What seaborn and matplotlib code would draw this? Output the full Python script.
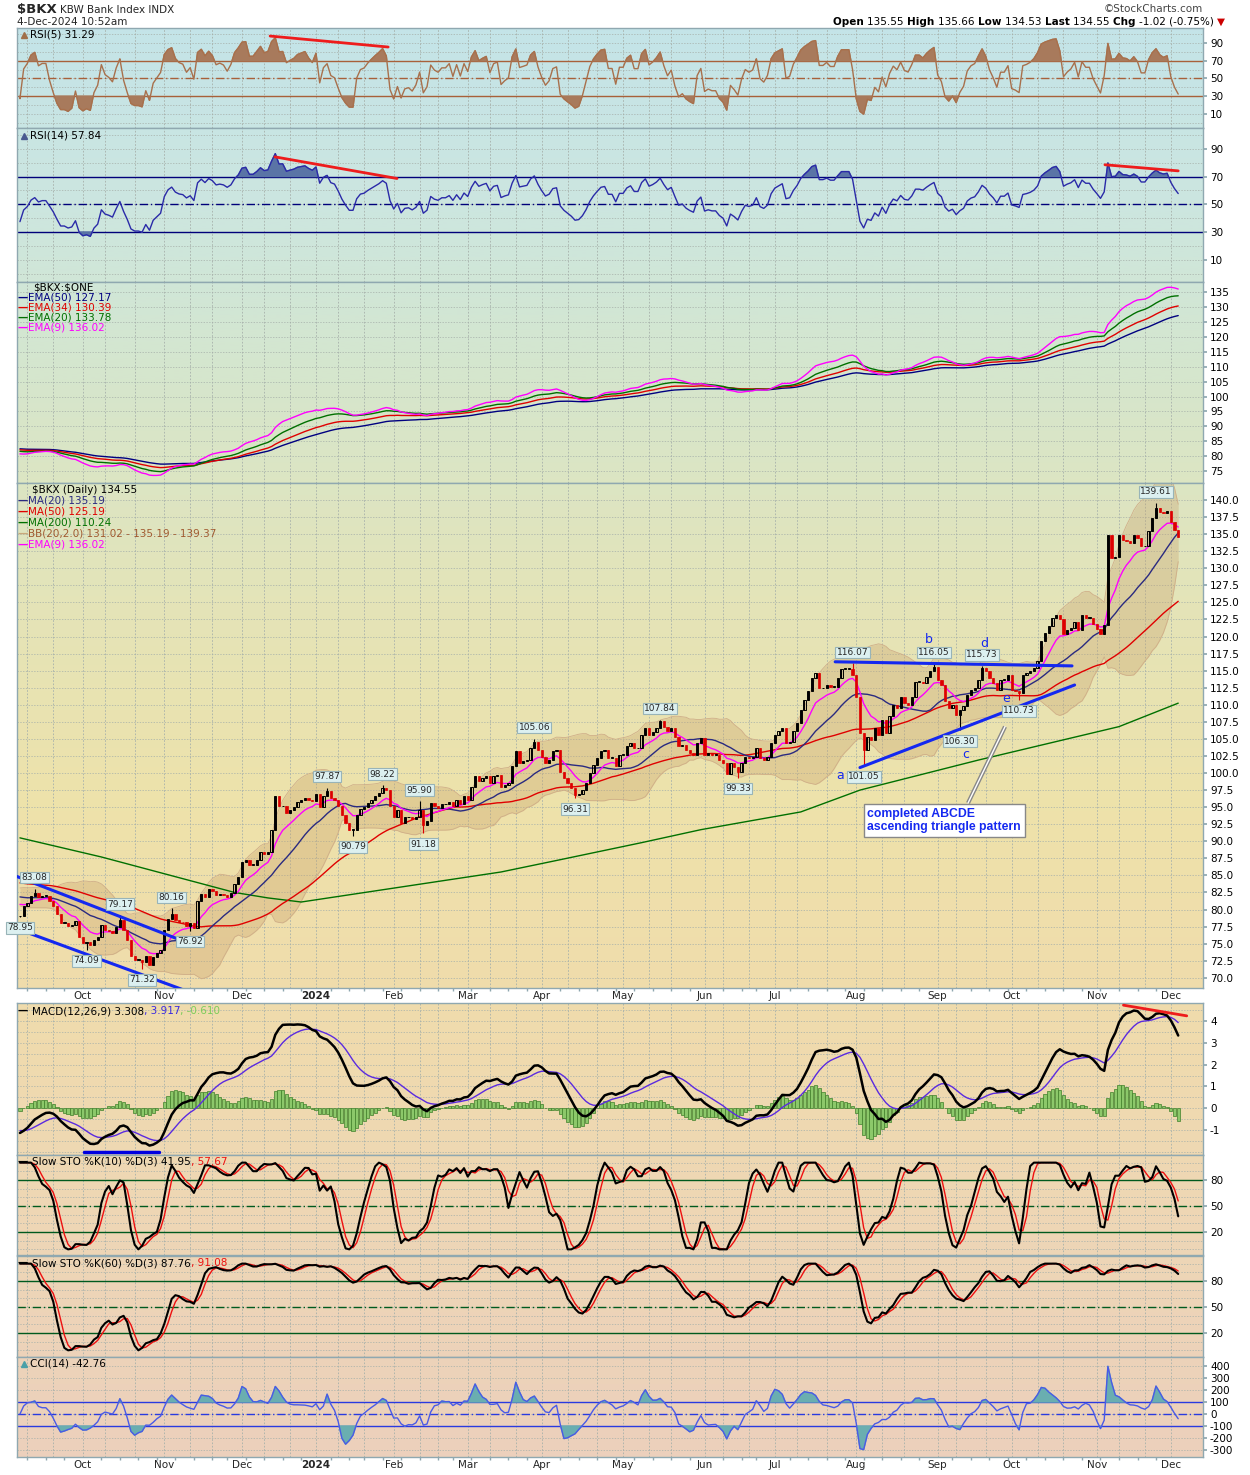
import numpy as np
import pandas as pd
import seaborn as sns
import matplotlib.pyplot as plt
from matplotlib.colors import LinearSegmentedColormap

# ---------------- data ----------------
# daily closes of $BKX, 7-Sep-2023 .. 4-Dec-2024
closes = [
    79.0, 80.5, 81.0, 82.0, 82.4, 81.8, 82.0, 82.0, 81.3, 80.5,
    79.3, 78.0, 78.0, 77.6, 77.7, 78.3, 76.0, 75.1, 75.2, 74.8,
    75.6, 76.0, 77.7, 77.0, 76.8, 76.5, 77.5, 78.5, 77.0, 75.5,
    73.2, 72.6, 72.6, 72.3, 73.2, 71.8, 73.1, 73.6, 74.1, 77.0,
    78.6, 79.3, 78.5, 78.2, 78.1, 77.6, 78.0, 77.3, 81.2, 82.3,
    81.8, 83.0, 82.7, 82.1, 82.3, 82.2, 81.9, 82.4, 83.8, 84.8,
    87.0, 87.3, 86.5, 86.5, 87.3, 88.5, 88.2, 88.4, 91.7, 96.6,
    95.1, 95.2, 94.1, 94.6, 95.0, 95.8, 96.1, 96.4, 96.1, 95.9,
    97.0, 95.0, 96.7, 97.3, 96.3, 96.1, 95.1, 93.8, 92.7, 91.7,
    91.7, 93.8, 94.8, 95.0, 95.6, 96.1, 96.6, 97.1, 97.8, 97.5,
    95.1, 93.6, 94.6, 92.7, 93.5, 93.6, 93.2, 93.6, 94.6, 92.4,
    92.9, 95.6, 95.1, 94.9, 95.4, 95.4, 95.8, 95.1, 96.1, 95.4,
    96.6, 96.1, 98.0, 99.5, 98.8, 99.2, 99.5, 98.5, 99.5, 99.7,
    98.0, 98.3, 98.5, 101.0, 103.2, 101.5, 101.7, 101.9, 103.7, 104.6,
    103.4, 102.4, 101.5, 101.9, 103.2, 103.4, 100.2, 99.2, 98.5, 97.8,
    96.8, 96.9, 97.5, 98.5, 100.0, 101.2, 102.2, 103.2, 103.4, 102.2,
    102.2, 101.0, 102.7, 102.7, 103.9, 104.4, 103.6, 103.6, 105.6, 106.6,
    105.6, 106.0, 106.6, 107.6, 106.8, 106.1, 106.6, 105.3, 103.9, 104.1,
    103.4, 103.0, 102.7, 104.4, 105.1, 102.7, 102.9, 102.7, 102.7, 101.9,
    101.4, 99.8, 101.4, 100.9, 100.2, 101.4, 102.4, 102.2, 102.4, 103.6,
    102.2, 101.9, 102.4, 104.4, 105.6, 106.1, 106.6, 104.4, 104.6, 106.1,
    107.3, 109.3, 110.7, 112.0, 113.9, 114.6, 112.4, 112.4, 112.9, 112.6,
    112.6, 113.9, 115.3, 115.3, 115.3, 114.4, 111.2, 105.9, 103.4, 105.3,
    104.9, 106.6, 105.6, 107.8, 105.9, 108.3, 110.0, 109.5, 111.2, 110.2,
    110.0, 111.2, 113.4, 113.4, 113.2, 114.1, 114.9, 115.6, 113.6, 112.9,
    110.5, 109.5, 109.9, 108.5, 109.3, 109.8, 111.4, 112.1, 112.4, 113.6,
    115.4, 114.9, 113.9, 113.2, 112.2, 113.7, 113.7, 114.4, 112.2, 112.0,
    111.7, 114.4, 114.6, 114.9, 115.4, 116.4, 119.3, 120.5, 121.5, 122.7,
    123.2, 122.5, 120.3, 120.9, 121.3, 122.2, 121.0, 123.2, 122.7, 122.7,
    121.8, 121.1, 120.3, 121.7, 134.9, 131.5, 131.7, 134.9, 134.1, 134.0,
    133.7, 134.9, 134.4, 133.2, 133.2, 135.4, 137.3, 138.8, 138.3, 138.1,
    138.4, 136.8, 135.57, 134.55,
]
holidays = ["2023-11-23", "2023-12-25", "2024-01-01", "2024-01-15", "2024-02-19",
            "2024-03-29", "2024-05-27", "2024-06-19", "2024-07-04", "2024-09-02",
            "2024-11-28"]

ma200_idx = [0, 22, 40, 58, 67, 76, 103, 130, 146, 168, 184, 211, 227, 259, 297, 313]
ma200_val = [90.5, 87.7, 85.1, 82.5, 81.7, 81.1, 83.3, 85.5, 87.3, 89.8, 91.7, 94.3,
             97.5, 101.9, 106.8, 110.24]

# labelled highs / lows
label_idx = [0, 4, 18, 27, 33, 41, 46, 83, 90, 98, 108, 109, 139, 150, 173, 194,
             225, 228, 247, 254, 260, 270, 307]
label_val = [78.95, 83.08, 74.09, 79.17, 71.32, 80.16, 76.92, 97.87, 90.79, 98.22,
             95.90, 91.18, 105.06, 96.31, 107.84, 99.33, 116.07, 101.05, 116.05,
             106.30, 115.73, 110.73, 139.61]
label_side = ["lo", "hi", "lo", "hi", "lo", "hi", "lo", "hi", "lo", "hi", "hi", "lo",
              "hi", "lo", "hi", "lo", "hi", "lo", "hi", "lo", "hi", "lo", "hi"]

# starting levels (history before the window)
ema_seed = {9: 81.2, 12: 80.5, 20: 81.9, 26: 81.6, 34: 82.3, 50: 82.6}
sma_seed = {20: 82.0, 50: 84.0}                  # mean level of the days before the window
macd_signal_seed = -1.0
rsi_seed = {5: (0.15, 0.40), 14: (0.30, 0.50)}   # average gain / loss

# ---------------- indicators ----------------
dates = pd.bdate_range("2023-09-07", "2024-12-04", freq="C", holidays=holidays)
n = len(closes)
xs = np.arange(n)
c = pd.Series(closes, dtype=float)
o = c.shift(1).fillna(c.iloc[0])
hi = np.maximum(o, c).to_numpy().copy()
lo = np.minimum(o, c).to_numpy().copy()
for i, v, s in zip(label_idx, label_val, label_side):
    if s == "hi":
        hi[i] = max(hi[i], v)
    else:
        lo[i] = min(lo[i], v)
hi_s, lo_s = pd.Series(hi), pd.Series(lo)


def padded(p):
    pad = pd.Series([sma_seed[p]] * (p - 1))
    return pd.concat([pad, c], ignore_index=True).rolling(p)


def ema(s, span, seed):
    a = 2.0 / (span + 1)
    out, prev = [], seed
    for v in s:
        prev = prev + a * (v - prev)
        out.append(prev)
    return pd.Series(out)


def rsi(s, p):
    up, dn = rsi_seed[p]
    out = []
    for v in s.diff().fillna(0):
        up = (up * (p - 1) + max(v, 0)) / p
        dn = (dn * (p - 1) + max(-v, 0)) / p
        out.append(100 - 100 / (1 + up / dn))
    return pd.Series(out)


def slow_sto(p):
    ll = lo_s.rolling(p, min_periods=1).min()
    hh = hi_s.rolling(p, min_periods=1).max()
    fk = (100 * (c - ll) / (hh - ll).replace(0, np.nan)).fillna(50)
    k = fk.rolling(3, min_periods=1).mean()
    return k, k.rolling(3, min_periods=1).mean()


ma20 = padded(20).mean().iloc[19:].reset_index(drop=True)
ma50 = padded(50).mean().iloc[49:].reset_index(drop=True)
sd20 = padded(20).std(ddof=0).iloc[19:].reset_index(drop=True)
bb_up, bb_lo = ma20 + 2 * sd20, ma20 - 2 * sd20
ema9, ema20, ema34, ema50 = (ema(c, p, ema_seed[p]) for p in (9, 20, 34, 50))
macd = ema(c, 12, ema_seed[12]) - ema(c, 26, ema_seed[26])
signal = ema(macd, 9, macd_signal_seed)
hist = macd - signal
rsi5, rsi14 = rsi(c, 5), rsi(c, 14)
k10, d10 = slow_sto(10)
k60, d60 = slow_sto(60)
tp = (hi_s + lo_s + c) / 3
tp_ma = tp.rolling(14, min_periods=1).mean()
md = tp.rolling(14, min_periods=1).apply(lambda a: np.mean(np.abs(a - a.mean())), raw=True)
cci = ((tp - tp_ma) / (0.015 * md.replace(0, np.nan))).fillna(0).clip(-340, 460)

month_idx, month_lab = [], []
for i, d in enumerate(dates):
    if i > 0 and d.month != dates[i - 1].month:
        month_idx.append(i)
        month_lab.append(str(d.year) if d.month == 1 else d.strftime("%b"))
third_idx = [i for i, d in enumerate(dates) if i > 0 and
             ((d.day >= 10 and dates[i - 1].day < 10) or (d.day >= 20 and dates[i - 1].day < 20))]
week_idx = [i for i, d in enumerate(dates) if i > 0 and d.weekday() < dates[i - 1].weekday()]

# ---------------- figure ----------------
sns.set_theme(style="white")
plt.rcParams["font.family"] = ["DejaVu Sans"]
W, H = 1250, 1475
L, R = 17, 1203
fig = plt.figure(figsize=(W / 100, H / 100), dpi=100)
fig.patch.set_facecolor("white")

bg = LinearSegmentedColormap.from_list("bg", [
    (0.00, "#c4e4e8"), (0.12, "#cce6e0"), (0.25, "#d6e6cc"), (0.40, "#e4e4b8"),
    (0.55, "#eee2aa"), (0.68, "#f0dcac"), (0.85, "#eed6b6"), (1.00, "#ecd0bc")])
GRID = "#a6b0aa"
FS = 7.5


def txt(ax, x, y, parts, size=FS):
    host = ax if ax is not None else fig.axes[0]
    t = None
    for s, col, w in parts:
        kw = dict(color=col, fontsize=size, weight=w, va="center", ha="left", parse_math=False)
        if t is None:
            if ax is not None:
                t = ax.annotate(s, xy=(0, 1), xycoords="axes fraction", xytext=(x, -y),
                                textcoords="offset pixels", **kw)
            else:
                t = fig.text(x / W, 1 - y / H, s, **kw)
        else:
            t = host.annotate(s, xy=(1, 0.5), xycoords=t, xytext=(0, 0),
                              textcoords="offset pixels", annotation_clip=False, **kw)
    return t


def panel(top, bot, ylim, ticks, fmt, gstep, xlabels=False):
    ax = fig.add_axes([L / W, 1 - bot / H, (R - L) / W, (bot - top) / H])
    f0, f1 = (top - 28) / (1457 - 28), (bot - 28) / (1457 - 28)
    img = bg(np.linspace(f0, f1, 80))[:, None, :]
    ax.imshow(img, extent=(0, 1, 0, 1), transform=ax.transAxes, aspect="auto", zorder=-10)
    ax.set_xlim(-0.8, 319.7)
    ax.set_ylim(*ylim)
    ax.yaxis.tick_right()
    ax.set_yticks(ticks)
    ax.set_yticklabels([fmt.format(v) for v in ticks], fontsize=FS)
    ax.tick_params(axis="y", length=3, pad=2, colors="black", color="#8fa8b0")
    g0 = np.ceil(ylim[0] / gstep) * gstep
    for v in np.arange(g0, ylim[1], gstep):
        ax.axhline(v, color=GRID, lw=0.5, ls=(0, (2, 2)), zorder=0)
    for m in month_idx + third_idx:
        ax.axvline(m, color=GRID, lw=0.6, ls=(0, (2, 2)), zorder=0)
    ax.set_xticks(month_idx)
    ax.set_xticks(week_idx, minor=True)
    if xlabels:
        ax.set_xticklabels(month_lab, fontsize=FS)
        for t in ax.get_xticklabels():
            if t.get_text() == "2024":
                t.set_weight("bold")
        ax.tick_params(axis="x", which="major", length=0, pad=2)
        ax.tick_params(axis="x", which="minor", length=2, color="#8fa8b0", bottom=True)
    else:
        ax.set_xticklabels([])
        ax.tick_params(axis="x", which="both", length=0)
    for s in ax.spines.values():
        s.set_color("#8fa8b0")
        s.set_linewidth(1)
    ax.set_xlabel("")
    ax.set_ylabel("")
    return ax


def line(ax, y, color, lw=1.0, z=3):
    sns.lineplot(x=xs, y=np.asarray(y), ax=ax, color=color, linewidth=lw, estimator=None,
                 legend=False, zorder=z)


# ---- RSI(5) ----
ax = panel(28, 128, (-6, 107), [10, 30, 50, 70, 90], "{:.0f}", 10)
RC = "#a8603a"
ax.axhline(70, color=RC, lw=1)
ax.axhline(30, color=RC, lw=1)
ax.axhline(50, color=RC, lw=1, ls=(0, (6, 2, 1, 2)))
ax.fill_between(xs, rsi5, 70, where=rsi5 > 70, interpolate=True, color="#a87a5c", zorder=2)
ax.fill_between(xs, rsi5, 30, where=rsi5 < 30, interpolate=True, color="#a87a5c", zorder=2)
line(ax, rsi5, "#a8704c", 1.0)
ax.plot([67.6, 99.5], [97.9, 85.5], color="#ee1c1c", lw=2, zorder=5)
txt(ax, 13, 7, [("RSI(5) 31.29", "black", "normal")])
ax.plot([0.006], [0.93], transform=ax.transAxes, marker="^", color="#a0704a", ms=5)

# ---- RSI(14) ----
ax = panel(128, 282, (-6, 105), [10, 30, 50, 70, 90], "{:.0f}", 10)
BC = "#00007a"
ax.axhline(70, color=BC, lw=1)
ax.axhline(30, color=BC, lw=1)
ax.axhline(50, color=BC, lw=1, ls=(0, (6, 2, 1, 2)))
ax.fill_between(xs, rsi14, 70, where=rsi14 > 70, interpolate=True, color="#5a74a6", zorder=2)
ax.fill_between(xs, rsi14, 30, where=rsi14 < 30, interpolate=True, color="#5a74a6", zorder=2)
line(ax, rsi14, "#2a2aa8", 1.0)
ax.plot([68.9, 101.9], [84.2, 68.6], color="#ee1c1c", lw=2, zorder=5)
ax.plot([293.2, 313], [78.5, 74.1], color="#ee1c1c", lw=2, zorder=5)
txt(ax, 13, 8, [("RSI(14) 57.84", "black", "normal")])
ax.plot([0.006], [0.95], transform=ax.transAxes, marker="^", color="#4a5a90", ms=5)

# ---- $BKX:$ONE EMAs ----
ax = panel(282, 483, (71, 138.4), list(range(75, 140, 5)), "{:.0f}", 5)
line(ax, ema50, "#000080", 1.0)
line(ax, ema34, "#e00000", 1.0)
line(ax, ema20, "#007000", 1.0)
line(ax, ema9, "#ff00ff", 1.0)
txt(ax, 16, 6, [("$BKX:$ONE", "black", "normal")])
for k, (s, col) in enumerate([("EMA(50) 127.17", "#000080"), ("EMA(34) 130.39", "#e00000"),
                              ("EMA(20) 133.78", "#007000"), ("EMA(9) 136.02", "#ff00ff")]):
    txt(ax, 1, 16 + 10 * k, [("\u2014", col, "bold"), (s, col, "normal")])

# ---- price ----
ax = panel(483, 988, (68.5, 142.5), list(np.arange(70, 140.1, 2.5)), "{:.1f}", 2.5,
           xlabels=True)
ax.fill_between(xs, bb_lo, bb_up, color="#c8a06a", alpha=0.33, lw=0, zorder=1)
line(ax, bb_up, "#cfae88", 0.6, 1)
line(ax, bb_lo, "#cfae88", 0.6, 1)
sns.lineplot(x=ma200_idx, y=ma200_val, ax=ax, color="#007000", linewidth=1.0,
             estimator=None, legend=False, zorder=3)
line(ax, ma50, "#e00000", 1.0)
line(ax, ma20, "#2a2a80", 1.0)
line(ax, ema9, "#ff00ff", 1.0)
up = (c >= o).to_numpy()
col = np.where(up, "black", "#dd0000")
ax.vlines(xs, lo, hi, color=col, lw=0.8, zorder=4)
body = np.maximum((c - o).abs().to_numpy(), 0.12)
ax.bar(xs[up], body[up], bottom=o.to_numpy()[up], width=0.62, facecolor="none",
       edgecolor="black", linewidth=0.7, zorder=5)
ax.bar(xs[~up], body[~up], bottom=c.to_numpy()[~up], width=0.62, facecolor="#dd0000",
       edgecolor="#dd0000", linewidth=0.5, zorder=5)
for i, v, s in zip(label_idx, label_val, label_side):
    dy = 11 if s == "hi" else -11
    ax.annotate(f"{v:.2f}", xy=(i, v), xytext=(0, dy), textcoords="offset pixels",
                ha="center", va="center", fontsize=6.5, zorder=8,
                bbox=dict(boxstyle="square,pad=0.15", fc="#dcf0f0", ec="#98b4b8", lw=0.8))
# hand-drawn trend lines
BL = "#1428f0"
ax.plot([-5.4, 47.8], [85.8, 74.6], color=BL, lw=2.2, zorder=6)
ax.plot([-5.4, 43.8], [78.1, 68.3], color=BL, lw=2.2, zorder=6)
ax.plot([220.3, 284.3], [116.3, 115.7], color=BL, lw=2.2, zorder=6)
ax.plot([227.0, 285.0], [100.8, 112.9], color=BL, lw=2.2, zorder=6)
ax.plot([256.2, 266.2], [95.6, 106.8], color="#888888", lw=3, zorder=6, solid_capstyle="butt")
ax.plot([256.2, 266.2], [95.6, 106.8], color="white", lw=1, zorder=6)
for s, xi, yv in [("a", 221.6, 99.6), ("b", 245.7, 119.5), ("c", 255.5, 102.7),
                  ("d", 260.6, 119.0), ("e", 266.6, 110.9)]:
    ax.text(xi, yv, s, color=BL, fontsize=9, ha="center", va="center", zorder=9)
ax.text(229.0, 93.0, "completed ABCDE\nascending triangle pattern", color=BL, fontsize=8.8,
        weight="bold", family="Liberation Sans", ha="left", va="center", linespacing=1.15,
        zorder=9, bbox=dict(boxstyle="square,pad=0.3", fc="white", ec="#888888", lw=1))
txt(ax, 15, 7, [("$BKX (Daily) 134.55", "black", "normal")])
for k, (s, colr) in enumerate([("MA(20) 135.19", "#2a2a80"), ("MA(50) 125.19", "#e00000"),
                               ("MA(200) 110.24", "#007000"),
                               ("BB(20,2.0) 131.02 - 135.19 - 139.37", "#a05a30"),
                               ("EMA(9) 136.02", "#ff00ff")]):
    txt(ax, 1, 18 + 11 * k, [("\u2014", colr if k != 3 else "#c8a87a", "bold"), (s, colr, "normal")])

# ---- MACD ----
ax = panel(1003, 1155, (-2.15, 4.83), [-1, 0, 1, 2, 3, 4], "{:.0f}", 0.5)
ax.bar(xs, hist, width=0.85, color="#8cc86a", edgecolor="#3f7f2a", linewidth=0.5, zorder=2)
line(ax, signal, "#5a2ae0", 1.0, 3)
line(ax, macd, "black", 1.8, 4)
ax.plot([298.2, 315.3], [4.73, 4.24], color="#ee1c1c", lw=2, zorder=5)
ax.plot([17.3, 37.6], [-2.02, -2.02], color="#0000e0", lw=2.5, zorder=5)
txt(ax, 1, 8, [("\u2014 ", "black", "bold"), ("MACD(12,26,9) 3.308", "black", "normal"),
               (", 3.917", "#3a2ae0", "normal"), (", -0.610", "#7ccc5a", "normal")])

# ---- Slow STO 10 ----
ax = panel(1155, 1255, (-6.5, 108.8), [20, 50, 80], "{:.0f}", 10)
GC = "#005a1e"
ax.axhline(80, color=GC, lw=1)
ax.axhline(20, color=GC, lw=1)
ax.axhline(50, color=GC, lw=1, ls=(0, (6, 2, 1, 2)))
line(ax, d10, "#ee1010", 1.0, 3)
line(ax, k10, "black", 1.5, 4)
txt(ax, 1, 7, [("\u2014 ", "black", "bold"), ("Slow STO %K(10) %D(3) 41.95", "black", "normal"),
               (", 57.67", "#ee1010", "normal")])

# ---- Slow STO 60 ----
ax = panel(1256, 1357, (-7.7, 108.8), [20, 50, 80], "{:.0f}", 10)
ax.axhline(80, color=GC, lw=1)
ax.axhline(20, color=GC, lw=1)
ax.axhline(50, color=GC, lw=1, ls=(0, (6, 2, 1, 2)))
line(ax, d60, "#ee1010", 1.0, 3)
line(ax, k60, "black", 1.5, 4)
txt(ax, 1, 7, [("\u2014 ", "black", "bold"), ("Slow STO %K(60) %D(3) 87.76", "black", "normal"),
               (", 91.08", "#ee1010", "normal")])

# ---- CCI ----
ax = panel(1357, 1457, (-358, 475), list(range(-300, 401, 100)), "{:.0f}", 100, xlabels=True)
CC = "#2a3ae0"
ax.axhline(100, color=CC, lw=1)
ax.axhline(-100, color=CC, lw=1)
ax.axhline(0, color=CC, lw=1, ls=(0, (6, 2, 1, 2)))
ax.fill_between(xs, cci, 100, where=cci > 100, interpolate=True, color="#6aaeb0", zorder=2)
ax.fill_between(xs, cci, -100, where=cci < -100, interpolate=True, color="#6aaeb0", zorder=2)
line(ax, cci, "#4a5ae6", 1.0)
txt(ax, 13, 7, [("CCI(14) -42.76", "black", "normal")])
ax.plot([0.006], [0.93], transform=ax.transAxes, marker="^", color="#4aa0a8", ms=5)

# ---- header ----
fig.text(17 / W, 1 - 10 / H, "$BKX", fontsize=9.5, weight="bold", va="center", parse_math=False)
fig.text(60 / W, 1 - 10 / H, "KBW Bank Index INDX", fontsize=FS, va="center")
fig.text(17 / W, 1 - 22 / H, "4-Dec-2024 10:52am", fontsize=FS, va="center")
fig.text(1203 / W, 1 - 9 / H, "\u00a9StockCharts.com", fontsize=FS, va="center", ha="right",
         color="#444444")
txt(None, 833, 22, [("Open ", "black", "bold"), ("135.55 ", "black", "normal"),
                    ("High ", "black", "bold"), ("135.66 ", "black", "normal"),
                    ("Low ", "black", "bold"), ("134.53 ", "black", "normal"),
                    ("Last ", "black", "bold"), ("134.55 ", "black", "normal"),
                    ("Chg ", "black", "bold"), ("-1.02 (-0.75%) ", "black", "normal"),
                    ("\u25bc", "#cc0000", "normal")])

fig.savefig("out.png", dpi=100)
